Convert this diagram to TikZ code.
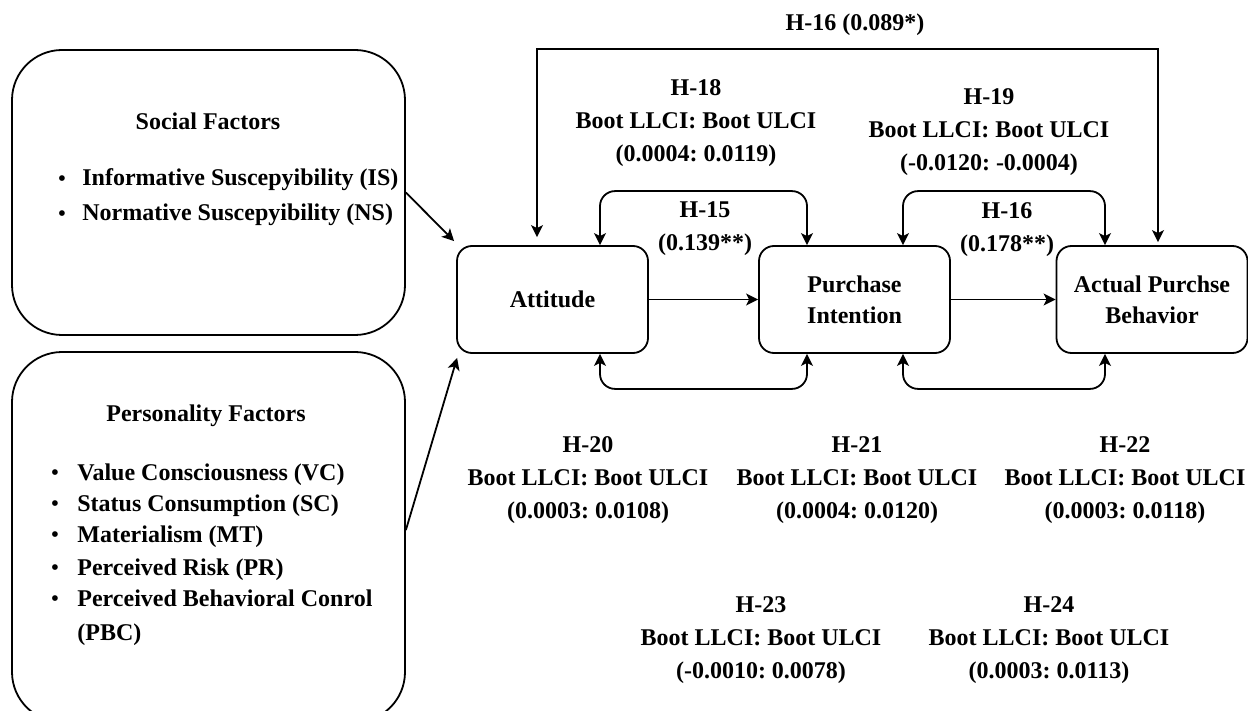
\documentclass[tikz,border=0pt]{standalone}
\usepackage{fontspec}
\setmainfont{Liberation Serif}
\usetikzlibrary{arrows.meta,calc}
\frenchspacing
\newcommand\lblfont{\fontsize{12}{16.5}\selectfont\bfseries}
\newcommand\smallbullet{\raisebox{0.2pt}{\fontsize{10.5}{10.5}\selectfont\textbullet}}
\begin{document}
\begin{tikzpicture}[x=0.5pt,y=-0.5pt,
  every node/.style={font=\lblfont},
  construct/.style={draw,line width=0.9pt,rounded corners=7.5pt,minimum width=95.5pt,
    minimum height=53.5pt,align=center,inner sep=0pt,font=\fontsize{12}{15.5}\selectfont\bfseries},
  factorbox/.style={draw,line width=0.9pt,rounded corners=25pt,minimum width=196.5pt,inner sep=0pt},
  tip/.style={-{Stealth[length=6pt,width=6pt,inset=1.5pt]}},
  link/.style={line width=0.9pt,tip},
  twoway/.style={line width=0.9pt,{Stealth[length=6pt,width=6pt,inset=1.5pt]}-{Stealth[length=6pt,width=6pt,inset=1.5pt]}},
  hyp/.style={align=center,inner sep=0pt},
  item/.style={anchor=base west,inner sep=0pt},
  dot/.style={anchor=base,inner sep=0pt}]
\useasboundingbox (0,0) rectangle (1248,711);
\clip (0,0) rectangle (1248,711);

% constructs
\node[construct] (att) at (552.5,299.5) {Attitude};
\node[construct] (pi)  at (854.5,299.5) {Purchase\\Intention};
\node[construct] (apb) at (1152,299.5) {Actual Purchse\\Behavior};

% factor groups
\node[factorbox,minimum height=142.5pt] (soc)  at (208.5,192.5) {};
\node[factorbox,minimum height=185pt]   (pers) at (208.5,537) {};

\node[anchor=base,inner sep=0pt] (soct) at (208,130) {Social Factors};
\node[dot]  (sb1) at (62,186) {\smallbullet};
\node[item] (si1) at (82,186) {Informative Suscepyibility (IS)};
\node[dot]  (sb2) at (62,221) {\smallbullet};
\node[item] (si2) at (82,221) {Normative Suscepyibility (NS)};

\node[anchor=base,inner sep=0pt] (perst) at (206,421) {Personality Factors};
\node[dot]  (pb1) at (55,480) {\smallbullet};
\node[item] (pi1) at (77,480) {Value Consciousness (VC)};
\node[dot]  (pb2) at (55,511) {\smallbullet};
\node[item] (pi2) at (77,511) {Status Consumption (SC)};
\node[dot]  (pb3) at (55,542) {\smallbullet};
\node[item] (pi3) at (77,542) {Materialism (MT)};
\node[dot]  (pb4) at (55,575) {\smallbullet};
\node[item] (pi4) at (77,575) {Perceived Risk (PR)};
\node[dot]  (pb5) at (55,606) {\smallbullet};
\node[item] (pi5) at (77,606) {Perceived Behavioral Conrol};
\node[item] (pi6) at (77,640) {(PBC)};

% factor links
\draw[link] (soc.east) -- ($(att.north west)+(-2,-4)$);
\draw[link] ($(pers.east)+(0,-7)$) -- ($(att.south west)+(1,4)$);

% direct paths
\draw[link] (att.east) -- (pi.west);
\draw[link] (pi.east) -- (apb.west);

% mediation loops
\draw[twoway,rounded corners=7.5pt] ($(att.north)+(47.5,0)$) -- ++(0,-54) -| ($(pi.north)+(-47.5,0)$);
\draw[twoway,rounded corners=7.5pt] ($(pi.north)+(48.5,0)$) -- ++(0,-54) -| ($(apb.north)+(-47,0)$);
\draw[twoway,rounded corners=7.5pt] ($(att.south)+(47.5,0)$) -- ++(0,35) -| ($(pi.south)+(-47.5,0)$);
\draw[twoway,rounded corners=7.5pt] ($(pi.south)+(48.5,0)$) -- ++(0,35) -| ($(apb.south)+(-47,0)$);

% long path from attitude to behaviour
\draw[twoway,shorten <=4pt,shorten >=1.5pt] ($(att.north)+(-15.5,0)$) -- ++(0,-196) -| ($(apb.north)+(6,0)$);

% hypothesis labels
\node[hyp] (h16a) at (855,25) {H-16 (0.089*)};
\node[hyp] (h18) at (696,123) {H-18\\Boot LLCI: Boot ULCI\\(0.0004: 0.0119)};
\node[hyp] (h15) at (705,229) {H-15\\(0.139**)};
\node[hyp] (h19) at (989,132) {H-19\\Boot LLCI: Boot ULCI\\(-0.0120: -0.0004)};
\node[hyp] (h16b) at (1007,230) {H-16\\(0.178**)};
\node[hyp] (h20) at (588,480) {H-20\\Boot LLCI: Boot ULCI\\(0.0003: 0.0108)};
\node[hyp] (h21) at (857,480) {H-21\\Boot LLCI: Boot ULCI\\(0.0004: 0.0120)};
\node[hyp] (h22) at (1125,480) {H-22\\Boot LLCI: Boot ULCI\\(0.0003: 0.0118)};
\node[hyp] (h23) at (761,640) {H-23\\Boot LLCI: Boot ULCI\\(-0.0010: 0.0078)};
\node[hyp] (h24) at (1049,640) {H-24\\Boot LLCI: Boot ULCI\\(0.0003: 0.0113)};
\end{tikzpicture}
\end{document}
